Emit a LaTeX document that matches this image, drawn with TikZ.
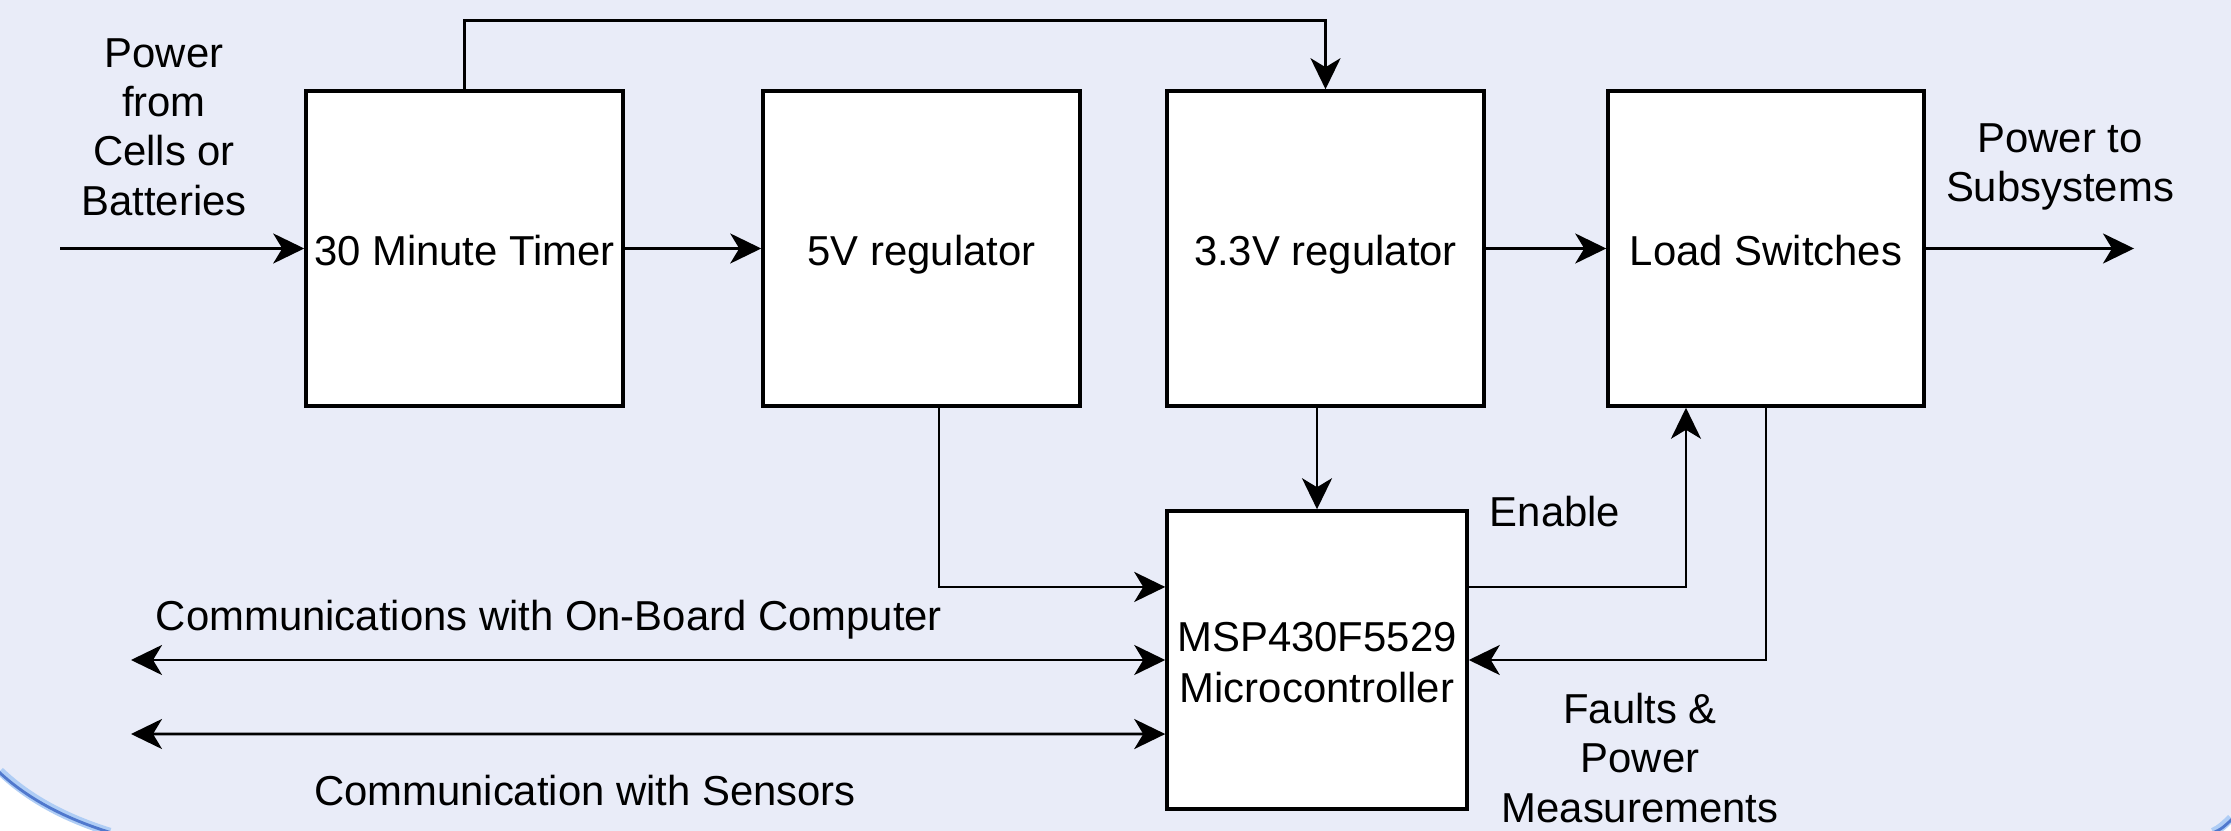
\documentclass[tikz,border=0pt]{standalone}
\usepackage{fontspec}
\setmainfont{Liberation Sans}
\usetikzlibrary{arrows.meta}
\definecolor{bg}{RGB}{233,236,248}
\definecolor{rim}{RGB}{80,120,205}
\definecolor{rimlight}{RGB}{175,205,245}
\begin{document}
\begin{tikzpicture}[x=0.01cm,y=-0.01cm,
  blkbase/.style={draw=black, fill=white, line width=0.95pt, inner sep=0pt, align=center,
    minimum width=3.17cm, minimum height=3.15cm, font=\fontsize{11.9}{14.6}\selectfont},
  blk/.style={blkbase, execute at begin node={\rule{0pt}{14.2pt}}, execute at end node=\strut},
  lbl/.style={align=center, inner sep=0pt, font=\fontsize{11.9}{14}\selectfont},
  conn/.style={line width=0.8pt, -{Stealth[length=0.31cm,width=0.30cm,inset=0.09cm]}},
  conn2/.style={line width=0.8pt, {Stealth[length=0.31cm,width=0.30cm,inset=0.09cm]}-{Stealth[length=0.31cm,width=0.30cm,inset=0.09cm]}},
]
\useasboundingbox (0,0) rectangle (2231,831);
\fill[white] (0,0) rectangle (2231,831);
\fill[bg] (0,0) -- (2231,0) -- (2231,817) .. controls (2225,823) and (2220,828) .. (2213,831) -- (110,831) .. controls (65,817) and (28,797) .. (0,770) -- cycle;
\draw[rimlight, line width=2.4pt] (110,832) .. controls (65,818) and (28,798) .. (0,771);
\draw[rim, line width=0.8pt] (112,833) .. controls (66,819) and (28,799) .. (-1,772);
\draw[rimlight, line width=2.4pt] (2231,818) .. controls (2225,824) and (2220,829) .. (2213,832);
\draw[rim, line width=0.8pt] (2232,819) .. controls (2226,825) and (2221,830) .. (2212,833);

% blocks
\node[blk] (timer) at (464.5,248.5) {30 Minute Timer};
\node[blk] (v5) at (921.5,248.5) {5V regulator};
\node[blk] (v33) at (1325.5,248.5) {3.3V regulator};
\node[blk, minimum width=3.16cm] (load) at (1766,248.5) {Load Switches};
\node[blkbase, minimum width=3.0cm, minimum height=2.98cm] (msp) at (1317,660)
  {\raisebox{-2pt}[\height][\depth]{\begin{tabular}{@{}c@{}}MSP430F5529\\Microcontroller\end{tabular}}};

% free ends
\coordinate (in) at (60,248.5);
\coordinate (out) at (2134,248.5);
\coordinate (obc) at (131,660);
\coordinate (sen) at (131,734);

% labels
\node[lbl] (pin) at (164,127) {Power\\from\\Cells or\\Batteries};
\node[lbl] (pout) at (2060,167) {Power to\\Subsystems};
\node[lbl] (en) at (1555,512) {Enable};
\node[lbl] (flt) at (1640,758) {Faults \&\\Power\\Measurements};
\node[lbl] (lobc) at (549,620) {Communications with On-Board Computer};
\node[lbl] (lsen) at (585,791) {Communication with Sensors};

% connectors
\draw[conn] (in) -- (timer.west);
\draw[conn] (timer.east) -- (v5.west);
\draw[conn] (v33.east) -- (load.west);
\draw[conn] (load.east) -- (out);
\draw[conn] (timer.north) -- ++(0,-69) -| (v33.north);
\draw[conn] (v33.south -| msp.north) -- (msp.north);
\draw[conn] ([xshift=0.175cm]v5.south) |- ([yshift=0.73cm]msp.west);
\draw[conn] ([yshift=0.73cm]msp.east) -| ([xshift=-0.8cm]load.south);
\draw[conn] (load.south) |- (msp.east);
\draw[conn2] (obc) -- (msp.west);
\draw[conn2] (sen) -- ([yshift=-0.74cm]msp.west);
\end{tikzpicture}
\end{document}
